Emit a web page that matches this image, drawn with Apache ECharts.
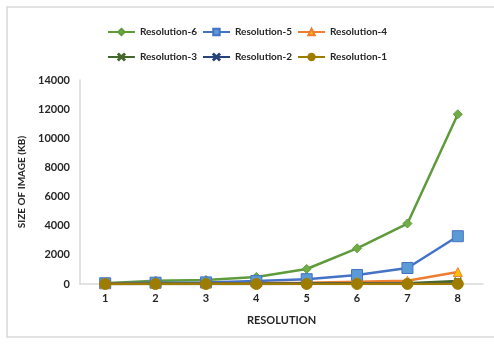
<!DOCTYPE html>
<html><head><meta charset="utf-8">
<script src="https://cdn.jsdelivr.net/npm/echarts@6/dist/echarts.min.js"></script>
<style>html,body{margin:0;padding:0;background:#fff}#c{width:494px;height:345px}</style>
</head><body><div id="c"></div>
<script>
const categories = ['1','2','3','4','5','6','7','8'];
const res6 = [60, 230, 280, 480, 1030, 2450, 4150, 11650];
const res5 = [50, 90, 110, 200, 330, 620, 1100, 3280];
const res4 = [10, 20, 30, 50, 80, 150, 220, 820];
const res3 = [5, 10, 15, 20, 30, 40, 60, 200];
const res2 = [2, 4, 6, 8, 10, 15, 20, 50];
const res1 = [1, 1, 2, 2, 3, 4, 5, 10];
const yTicks = [0, 2000, 4000, 6000, 8000, 10000, 12000, 14000];

const font = 'Lato, "Open Sans", sans-serif';
const cross = 'path://M0,1L1,0L5,4L9,0L10,1L6,5L10,9L9,10L5,6L1,10L0,9L4,5Z';
function s(name, data, line, marker, symbol, size) {
  return { name, type: 'line', data, symbol, symbolSize: size,
    lineStyle: { color: line, width: 2.5 },
    itemStyle: { color: marker, borderColor: line, borderWidth: 1 },
    emphasis: { disabled: true } };
}
const legendText = { fontFamily: font, fontWeight: 'bold', fontSize: 10, color: '#262626' };
const chart = echarts.init(document.getElementById('c'));
chart.setOption({
  animation: false,
  graphic: [{ type: 'rect', shape: { x: 7, y: 7, width: 500, height: 330 },
    style: { fill: 'none', stroke: '#d9d9d9', lineWidth: 1.5 } }],
  legend: [
    { data: ['Resolution-6', 'Resolution-5', 'Resolution-4'], top: 22, left: 'center',
      itemWidth: 27, itemHeight: 8, itemGap: 5, textStyle: legendText },
    { data: ['Resolution-3', 'Resolution-2', 'Resolution-1'], top: 47, left: 'center',
      itemWidth: 27, itemHeight: 8, itemGap: 5, textStyle: legendText }
  ],
  grid: { left: 80, right: 11, top: 80, bottom: 61 },
  xAxis: { type: 'category', data: categories, boundaryGap: true,
    name: 'RESOLUTION', nameLocation: 'middle', nameGap: 31,
    nameTextStyle: { fontFamily: font, fontWeight: 'bold', fontSize: 11, color: '#262626' },
    axisLine: { lineStyle: { color: '#d9d9d9', width: 1.5 } }, axisTick: { show: false },
    axisLabel: { fontFamily: font, fontWeight: 'bold', fontSize: 11, color: '#262626', margin: 9 } },
  yAxis: { type: 'value', min: yTicks[0], max: yTicks[yTicks.length - 1], interval: 2000,
    name: 'SIZE OF IMAGE (KB)', nameLocation: 'middle', nameGap: 46,
    nameTextStyle: { fontFamily: font, fontWeight: 'bold', fontSize: 10, color: '#262626' },
    axisLine: { show: true, lineStyle: { color: '#d9d9d9', width: 1.5 } }, axisTick: { show: false },
    splitLine: { show: false },
    axisLabel: { fontFamily: font, fontWeight: 'bold', fontSize: 11, color: '#262626', margin: 10,
      formatter: v => String(v) } },
  series: [
    s('Resolution-6', res6, '#5f9a3b', '#70ad47', 'diamond', 9),
    s('Resolution-5', res5, '#4472c4', '#5b9bd5', 'rect', 11),
    s('Resolution-4', res4, '#ed7d31', '#ffc000', 'triangle', 9),
    s('Resolution-3', res3, '#43682b', '#43682b', cross, 7),
    s('Resolution-2', res2, '#264478', '#5b9bd5', cross, 7),
    s('Resolution-1', res1, '#9e7c00', '#9e7c00', 'circle', 11)
  ]
});
</script></body></html>
